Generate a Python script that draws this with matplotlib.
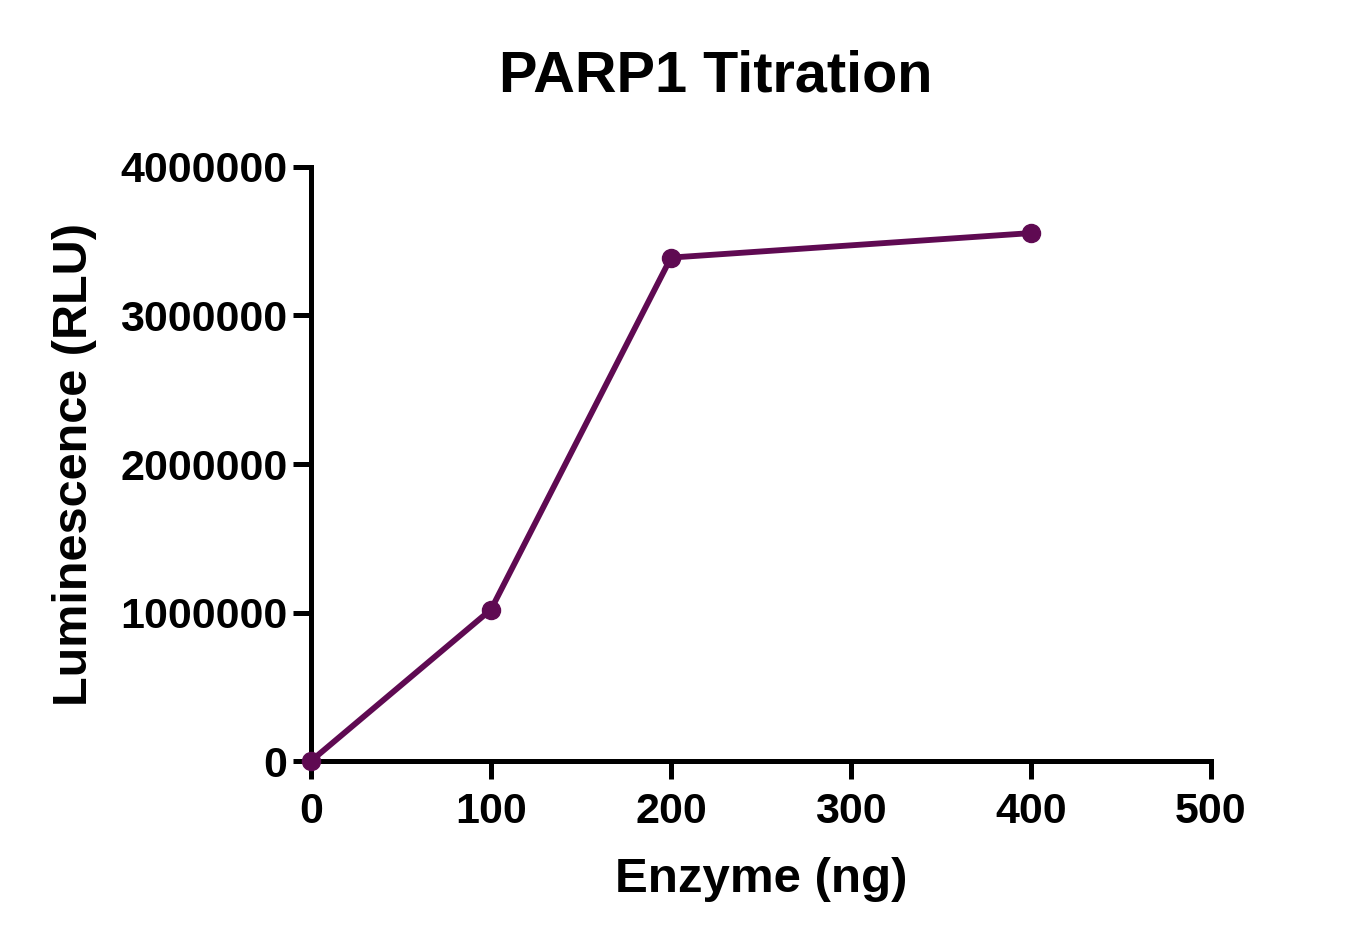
import matplotlib
matplotlib.use("Agg")
import matplotlib.pyplot as plt

enzyme_ng = [0, 100, 200, 400]
luminescence = [0, 1020000, 3390000, 3555000]
x_ticks = [0, 100, 200, 300, 400, 500]
y_ticks = [0, 1000000, 2000000, 3000000, 4000000]

plt.rcParams['font.family'] = ['Liberation Sans', 'DejaVu Sans']
plt.rcParams['font.weight'] = 'bold'

fig = plt.figure(figsize=(13.49, 9.46), dpi=100)
ax = fig.add_axes([311/1349, 1-761/946, 900/1349, 594/946])
color = '#5f0a52'
ax.plot(enzyme_ng, luminescence, color=color, lw=4.2, marker='o', ms=13, clip_on=False, zorder=5)
ax.set_xlim(0, 500)
ax.set_ylim(0, 4000000)
ax.set_xticks(x_ticks)
ax.set_yticks(y_ticks)
ax.set_xticklabels([str(v) for v in x_ticks])
ax.set_yticklabels([str(v) for v in y_ticks])
for s in ['top', 'right']:
    ax.spines[s].set_visible(False)
for s in ['left', 'bottom']:
    ax.spines[s].set_linewidth(3.6)
ax.tick_params(width=3.6, length=13, labelsize=31)
ax.tick_params(axis='x', pad=9)
ax.tick_params(axis='y', pad=4)
for lab in ax.get_xticklabels() + ax.get_yticklabels():
    lab.set_fontweight('bold')
ax.set_xlabel('Enzyme (ng)', fontsize=35.5, fontweight='bold', labelpad=18)
ax.set_ylabel('Luminescence (RLU)', fontsize=35, fontweight='bold', labelpad=17)
fig.text(716/1349, 1-77/946, 'PARP1 Titration', fontsize=41.5, fontweight='bold', ha='center', va='center')
fig.savefig('out.png', dpi=100)
